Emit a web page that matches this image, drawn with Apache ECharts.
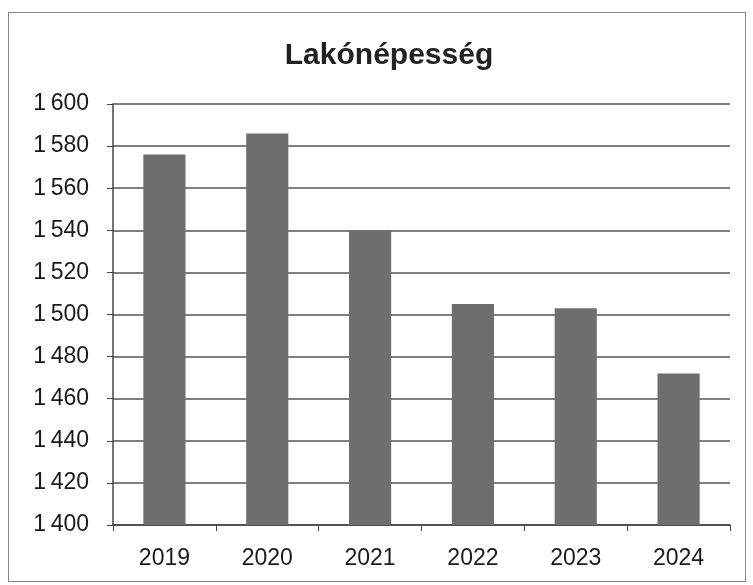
<!DOCTYPE html>
<html>
<head>
<meta charset="utf-8">
<script src="https://cdn.jsdelivr.net/npm/echarts@6/dist/echarts.min.js"></script>
<style>
  html, body { margin: 0; padding: 0; background: #fff; }
  #frame { position: absolute; left: 8px; top: 12px; width: 738px; height: 570px; border: 1px solid #888; box-sizing: border-box; }
  #chart { width: 753px; height: 585px; }
</style>
</head>
<body>
<div id="frame"></div>
<div id="chart"></div>
<script>
// adatok
const years = ["2019", "2020", "2021", "2022", "2023", "2024"];
const population = [1576, 1586, 1540, 1505, 1503, 1472];

const fmt = v => String(v).replace(/\B(?=(\d{3})+(?!\d))/g, "\u2009");

const dom = echarts.init(document.getElementById("chart"));
let option = {
  animation: false,
  title: {
    text: "Lakónépesség",
    left: 384,
    textAlign: "center",
    top: 36,
    textStyle: {
      fontFamily: "Liberation Sans",
      fontSize: 30,
      fontWeight: "bold",
      color: "#222",
    },
  },
  grid: {
    left: 113,
    right: 23,
    top: 104,
    bottom: 60,
  },
  xAxis: {
    type: "category",
    data: years,
    axisLine: { lineStyle: { color: "#444", width: 1.5 } },
    axisTick: { show: true, length: 6, lineStyle: { color: "#444" } },
    axisLabel: {
      margin: 22,
      fontFamily: "Liberation Sans",
      fontSize: 23,
      color: "#1a1a1a",
    },
  },
  yAxis: {
    type: "value",
    min: 1400,
    max: 1600,
    interval: 20,
    axisLine: { show: true, lineStyle: { color: "#444", width: 1.5 } },
    axisTick: { show: true, length: 6, lineStyle: { color: "#444" } },
    splitLine: { lineStyle: { color: "#555", width: 1.5 } },
    axisLabel: {
      margin: 24,
      fontFamily: "Liberation Sans",
      fontSize: 23,
      color: "#1a1a1a",
      formatter: fmt,
    },
  },
  series: [
    {
      name: "Lakónépesség",
      type: "bar",
      data: population,
      barWidth: "41%",
      itemStyle: { color: "#6e6e6e" },
    },
  ],
};
dom.setOption(option);
</script>
</body>
</html>
